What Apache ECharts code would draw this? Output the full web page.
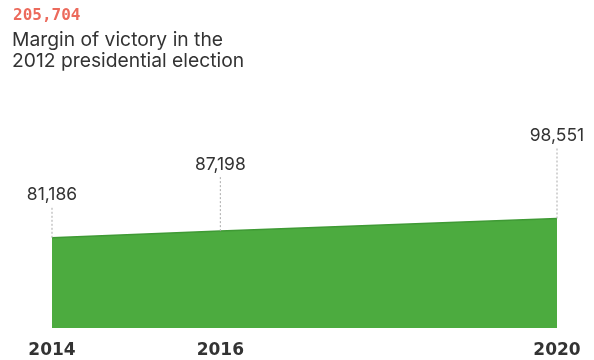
<!DOCTYPE html>
<html>
<head>
<meta charset="utf-8">
<script src="https://cdn.jsdelivr.net/npm/echarts@6/dist/echarts.min.js"></script>
<style>html,body{margin:0;padding:0;background:#fff}#c{width:594px;height:360px}</style>
</head>
<body>
<div id="c"></div>
<script>
var years = [2014, 2016, 2020];
var margins = [81186, 87198, 98551];
var tickLabels = ['2014', '2016', '2020'];
var headlineValue = '205,704';
var headlineText = 'Margin of victory in the\n2012 presidential election';
var labelLift = [31, 54, 71];

var chart = echarts.init(document.getElementById('c'), null, {renderer: 'canvas'});
var pts = years.map(function (y, i) { return [y, margins[i]]; });

chart.setOption({
  animation: false,
  backgroundColor: '#fff',
  title: [{
    text: headlineValue,
    left: 8, top: 3,
    textStyle: {color: '#ec6a5c', fontSize: 16, fontWeight: 'bold', fontFamily: 'DejaVu Sans Mono'}
  }, {
    text: headlineText,
    left: 7, top: 25,
    textStyle: {color: '#333', fontSize: 19.3, fontWeight: 'normal', fontFamily: 'Inter', lineHeight: 21}
  }],
  grid: {left: 52, right: 37, top: 148, bottom: 32},
  xAxis: {
    type: 'value', min: 2014, max: 2020, interval: 2,
    axisLine: {show: false}, axisTick: {show: false}, splitLine: {show: false},
    axisLabel: {
      margin: 14, color: '#333', fontSize: 17, fontWeight: 900, fontFamily: 'DejaVu Sans',
      formatter: function (v) { var i = years.indexOf(v); return i >= 0 ? tickLabels[i] : ''; }
    }
  },
  yAxis: {type: 'value', min: 0, max: 162000, show: false, splitLine: {show: false}},
  series: [{
    type: 'line',
    data: pts,
    symbol: 'none',
    lineStyle: {color: '#3f9a35', width: 1.5},
    areaStyle: {color: '#4cab3f', opacity: 1}
  }, {
    type: 'custom',
    data: pts,
    z: 5,
    renderItem: function (params, api) {
      var p = api.coord([api.value(0), api.value(1)]);
      var lift = labelLift[params.dataIndex];
      var v = margins[params.dataIndex];
      return {
        type: 'group',
        children: [{
          type: 'line',
          shape: {x1: p[0], y1: p[1], x2: p[0], y2: p[1] - lift},
          style: {stroke: '#aaa', lineWidth: 1, lineDash: [2, 2]}
        }, {
          type: 'text',
          style: {
            x: p[0], y: p[1] - lift - 3,
            text: v.toLocaleString('en-US'),
            fill: '#333', font: '17.5px Inter',
            align: 'center', verticalAlign: 'bottom'
          }
        }]
      };
    }
  }]
});
</script>
</body>
</html>
